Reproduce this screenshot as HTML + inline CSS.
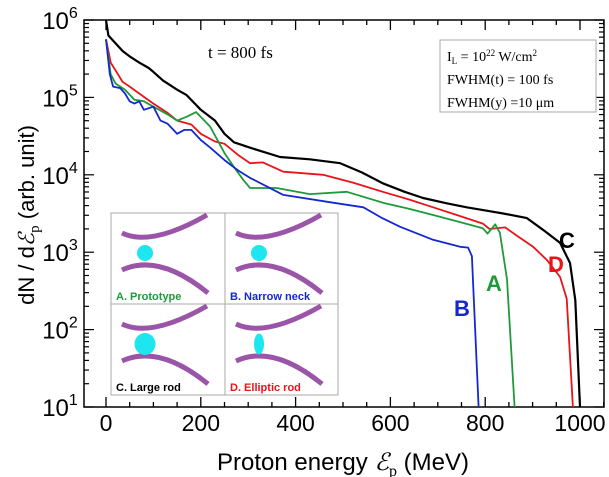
<!DOCTYPE html>
<html><head><meta charset="utf-8"><style>
body{margin:0;background:#fff}
svg{display:block;font-family:"Liberation Sans",sans-serif}
</style></head><body>
<svg id="c" width="609" height="477" viewBox="0 0 609 477">
<rect x="84" y="20" width="520" height="387" fill="none" stroke="#000" stroke-width="1.5"/>
<g id="ticks"></g>
<g id="series"></g>
<text x="208" y="58" font-family="Liberation Serif" font-size="17">t = 800 fs</text>
<g>
<rect x="440" y="40" width="156" height="72" fill="#fff" stroke="#aaa"/>
<text x="447" y="61" font-family="Liberation Serif" font-size="14">I<tspan font-size="9" dy="3">L</tspan><tspan dy="-3"> = 10</tspan><tspan font-size="9" dy="-5">22</tspan><tspan dy="5"> W/cm</tspan><tspan font-size="9" dy="-5">2</tspan></text>
<text x="447" y="84" font-family="Liberation Serif" font-size="14">FWHM(t) = 100 fs</text>
<text x="447" y="107" font-family="Liberation Serif" font-size="14">FWHM(y) =10 μm</text>
</g>
<g id="inset"></g>
<text x="567" y="248" font-size="22" font-weight="bold" text-anchor="middle" fill="#000">C</text>
<text x="556" y="272" font-size="22" font-weight="bold" text-anchor="middle" fill="#e8141a">D</text>
<text x="494" y="291" font-size="22" font-weight="bold" text-anchor="middle" fill="#1f9a3a">A</text>
<text x="462" y="316" font-size="22" font-weight="bold" text-anchor="middle" fill="#1428d0">B</text>
<text x="343" y="470" font-size="24" text-anchor="middle">Proton energy  <tspan font-family="Liberation Serif" font-style="italic">ℰ</tspan><tspan font-family="Liberation Serif" font-size="16" dy="6">p</tspan><tspan dy="-6"> (MeV)</tspan></text>
<text transform="translate(34,215) rotate(-90)" font-size="22" text-anchor="middle">dN / d<tspan font-family="Liberation Serif" font-style="italic">ℰ</tspan><tspan font-family="Liberation Serif" font-size="15" dy="5">p</tspan><tspan dy="-5">  (arb. unit)</tspan></text>
</svg>
<script>
const xTicks=[0,200,400,600,800,1000];
const yDecades=[1,2,3,4,5,6];
const seriesNames=["C","D","A","B"];
const seriesColors=["#000","#e8141a","#1f9a3a","#1428d0"];
const xC=[0,5,20,35,50,70,90,100,120,150,170,200,230,250,270,304,367,430,494,540,584,630,669,720,761,800,838,888,922,958,979,990,1000];
const yC=[6,5.8,5.7,5.6,5.53,5.45,5.38,5.33,5.22,5.1,5.03,4.84,4.7,4.53,4.42,4.35,4.23,4.2,4.15,4.03,3.89,3.78,3.7,3.63,3.58,3.54,3.5,3.44,3.29,3.12,2.86,2.38,1];
const xD=[0,10,20,35,50,70,100,130,150,180,200,230,250,280,304,331,374,458,520,584,640,690,740,795,809,842,870,901,930,958,972,985];
const yD=[5.75,5.45,5.35,5.2,5.14,5.05,4.92,4.8,4.7,4.65,4.53,4.43,4.4,4.25,4.15,4.16,4.04,4.0,3.9,3.78,3.68,3.58,3.48,3.37,3.3,3.32,3.2,3.07,2.9,2.68,2.4,1];
const xA=[0,10,20,40,60,80,100,130,150,170,190,220,250,270,290,304,360,430,508,584,640,690,740,795,805,821,831,846,862];
const yA=[5.75,5.3,5.18,5.1,4.97,4.95,4.88,4.78,4.7,4.75,4.81,4.62,4.28,4.1,3.93,3.83,3.83,3.75,3.78,3.64,3.56,3.48,3.4,3.31,3.24,3.36,3.25,2.65,1];
const xB=[0,8,15,30,40,50,60,70,80,100,115,130,150,165,180,200,220,250,280,304,374,479,543,580,620,690,747,764,772,786];
const yB=[5.75,5.3,5.14,5.12,5.05,4.95,4.92,4.95,4.84,4.88,4.7,4.66,4.53,4.58,4.58,4.45,4.35,4.19,4.05,3.96,3.74,3.64,3.58,3.45,3.33,3.16,3.07,3.06,2.95,1];
const NS="http://www.w3.org/2000/svg";
const X=v=>106+v*0.474;
const Y=l=>407-(l-1)*77.4;
function mk(t,a,p){const e=document.createElementNS(NS,t);for(const k in a)e.setAttribute(k,a[k]);p.appendChild(e);return e;}
const tg=document.getElementById('ticks');
for(let v=0;v<=1050;v+=50){const big=v%200===0;
 const t1=mk('line',{x1:X(v),x2:X(v),y1:407,y2:407-(big?10:5),stroke:'#000','stroke-width':1.3},tg);
 
 
 const t2=mk('line',{x1:X(v),x2:X(v),y1:20,y2:20+(big?10:5),stroke:'#000','stroke-width':1.3},tg);
 
 }
xTicks.forEach(v=>{const t=mk('text',{x:X(v),y:431,'font-size':23,'text-anchor':'middle'},tg);t.textContent=v;
 
 });
yDecades.forEach(d=>{
 const t=mk('text',{x:60,y:Y(d)+9,'font-size':24,'text-anchor':'middle'},tg);t.innerHTML='10<tspan font-size="16" dy="-11">'+d+'</tspan>';
 
 
 for(let m=1;m<=9;m++){if(d===6&&m>1)break;const y=Y(d+Math.log10(m));const L=m===1?10:5;
  const a=mk('line',{x1:84,x2:84+L,y1:y,y2:y,stroke:'#000','stroke-width':1.2},tg);
  
  
  const b=mk('line',{x1:604,x2:604-L,y1:y,y2:y,stroke:'#000','stroke-width':1.2},tg);
  
  }});
const sg=document.getElementById('series');
[[xC,yC],[xD,yD],[xA,yA],[xB,yB]].forEach((s,i)=>{
 const d=s[0].map((x,j)=>(j?'L':'M')+X(x).toFixed(1)+','+Y(s[1][j]).toFixed(1)).join('');
 const p=mk('path',{d:d,fill:'none',stroke:seriesColors[i],'stroke-width':i===0?2.2:1.8,'stroke-linejoin':'round'},sg);
 
 });
const ig=document.getElementById('inset');
mk('rect',{x:111,y:213,width:227,height:182,fill:'#fff',stroke:'#aaa'},ig);
mk('line',{x1:225,x2:225,y1:213,y2:395,stroke:'#aaa'},ig);
mk('line',{x1:111,x2:338,y1:304,y2:304,stroke:'#aaa'},ig);
const cells=[[111,213,'A. Prototype','#1f9a3a',8,8],[225,213,'B. Narrow neck','#1428d0',8,8],[111,304,'C. Large rod','#000',10.5,11],[225,304,'D. Elliptic rod','#e8141a',5,10.5]];
cells.forEach(c=>{const g=mk('g',{transform:'translate('+c[0]+','+c[1]+')'},ig);
 
 
 mk('path',{d:'M11,20 Q40,34 96,2',fill:'none',stroke:'#9b55a8','stroke-width':5},g);
 mk('path',{d:'M11,57 Q48,40 97,80',fill:'none',stroke:'#9b55a8','stroke-width':5},g);
 mk('ellipse',{cx:34,cy:40,rx:c[4],ry:c[5],fill:'#1ee6ee'},g);
 const t=mk('text',{x:5,y:87,'font-size':11,'font-weight':'bold',fill:c[3]},g);t.textContent=c[2];});
</script>
</body></html>
